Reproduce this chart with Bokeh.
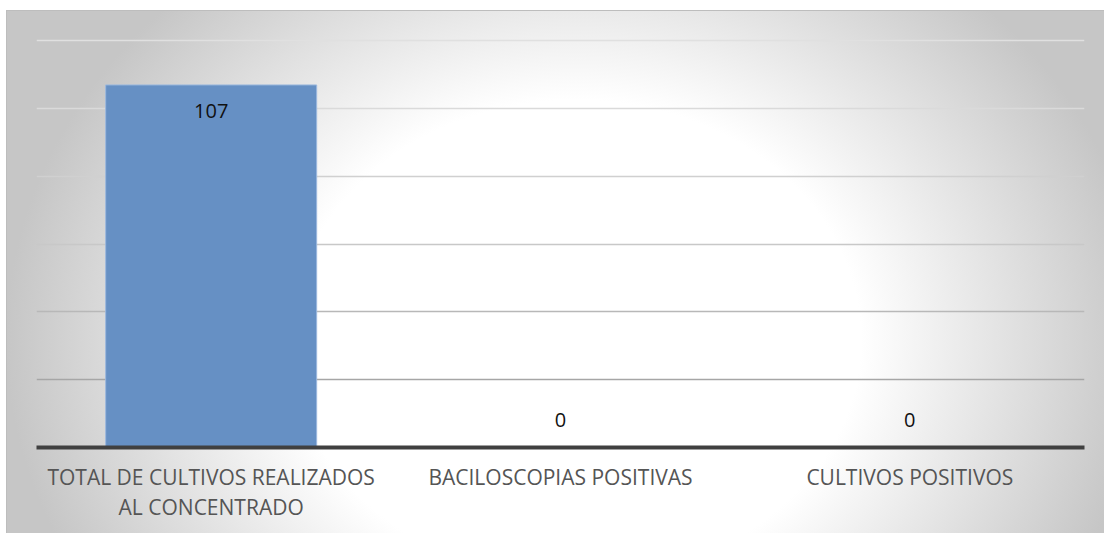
from bokeh.plotting import figure
from bokeh.models import ColumnDataSource, Grid, FixedTicker, Spacer
from bokeh.layouts import column, row
from bokeh.core.properties import value
from bokeh.embed import file_html
from bokeh.resources import INLINE

# Data
categories = ["TOTAL DE CULTIVOS REALIZADOS\nAL CONCENTRADO",
              "BACILOSCOPIAS POSITIVAS",
              "CULTIVOS POSITIVOS"]
counts = [107, 0, 0]
y_ticks = [20, 40, 60, 80, 100, 120]

# Gridline shades, darkening towards the baseline
grid_colors = ["#a6a6a6", "#b8b8b8", "#c8c8c8", "#d0d0d0", "#dadada", "#e0e0e0"]

FONT = "Open Sans"

labels = [str(v) for v in counts]
# value labels sit inside the top of a bar, or just above the baseline for zero
offsets = [26 if v > 0 else -28 for v in counts]

src = ColumnDataSource(dict(cat=categories, val=counts, lab=labels, off=offsets))

p = figure(
    x_range=categories, y_range=(0, 121),
    width=1098, height=523,
    output_backend="svg", toolbar_location=None,
    min_border_left=30, min_border_right=20,
    min_border_top=27, min_border_bottom=86,
)
p.border_fill_alpha = 0
p.background_fill_alpha = 0
p.outline_line_color = None
p.styles = {
    "background": "radial-gradient(ellipse 570px 480px at 570px 330px, "
                  "#ffffff 0%, #ffffff 50%, #c6c6c6 100%)",
    "box-shadow": "inset 1px 1px 0 0 #bdbdbd",
}

# gridlines
p.xgrid.visible = False
p.ygrid.visible = False
for t, c in zip(y_ticks, grid_colors):
    p.add_layout(Grid(dimension=1, ticker=FixedTicker(ticks=[t]),
                      grid_line_color=c, grid_line_width=1.5))

p.vbar(x="cat", top="val", width=0.604, source=src,
       fill_color="#6690c4", line_color="#9cb8de", line_width=1)

p.text(x="cat", y="val", text="lab", y_offset="off", source=src,
       text_align="center", text_baseline="middle",
       text_font=value(FONT), text_font_size="20px", text_color="#111111")

p.yaxis.visible = False
xa = p.xaxis[0]
xa.axis_line_color = "#404040"
xa.axis_line_width = 4
xa.major_tick_line_color = None
xa.minor_tick_line_color = None
xa.major_label_text_font = FONT
xa.major_label_text_font_size = "21px"
xa.major_label_text_color = "#555555"
xa.major_label_text_line_height = 1.1
xa.major_label_standoff = 9

layout = column(Spacer(height=10), row(Spacer(width=6), p))

open("out.html", "w").write(file_html(layout, INLINE))
